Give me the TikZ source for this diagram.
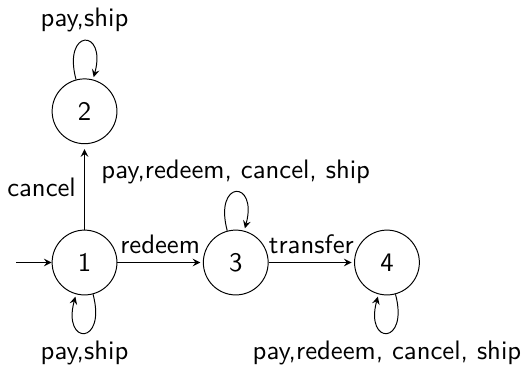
\documentclass[tikz,border=0pt]{standalone}
\usetikzlibrary{positioning,arrows}

\begin{document}
\begin{tikzpicture}[
    >=stealth,
    font=\sffamily\fontsize{10.9}{13}\selectfont,
    node distance=2.17cm, on grid,
    qstate/.style={circle, draw, minimum size=0.93cm, inner sep=0pt}
]
    % Fix the frame
    \useasboundingbox (-1.213,-1.514) rectangle (6.292,3.767);

    % States
    \node[qstate] (q1) {1};
    \node[qstate, above=of q1] (q2) {2};
    \node[qstate, right=of q1] (q3) {3};
    \node[qstate, right=of q3] (q4) {4};
    \coordinate[left=0.98cm of q1] (start);

    % Transitions
    \draw[->] (start) -- (q1);
    \draw[->, shorten >=2pt] (q1) -- node[left] {cancel} (q2);
    \draw[->, shorten >=1pt] (q1) -- node[above] {redeem} (q3);
    \draw[->, shorten >=1pt] (q3) -- node[above] {transfer} (q4);

    % Self loops
    \path[->] (q2) edge[loop above] node[above] {pay,ship} ();
    \path[->] (q1) edge[loop below] node[below] {pay,ship} ();
    \path[->] (q3) edge[loop above] node[above] {pay,redeem, cancel, ship} ();
    \path[->] (q4) edge[loop below] node[below] {pay,redeem, cancel, ship} ();
\end{tikzpicture}
\end{document}
